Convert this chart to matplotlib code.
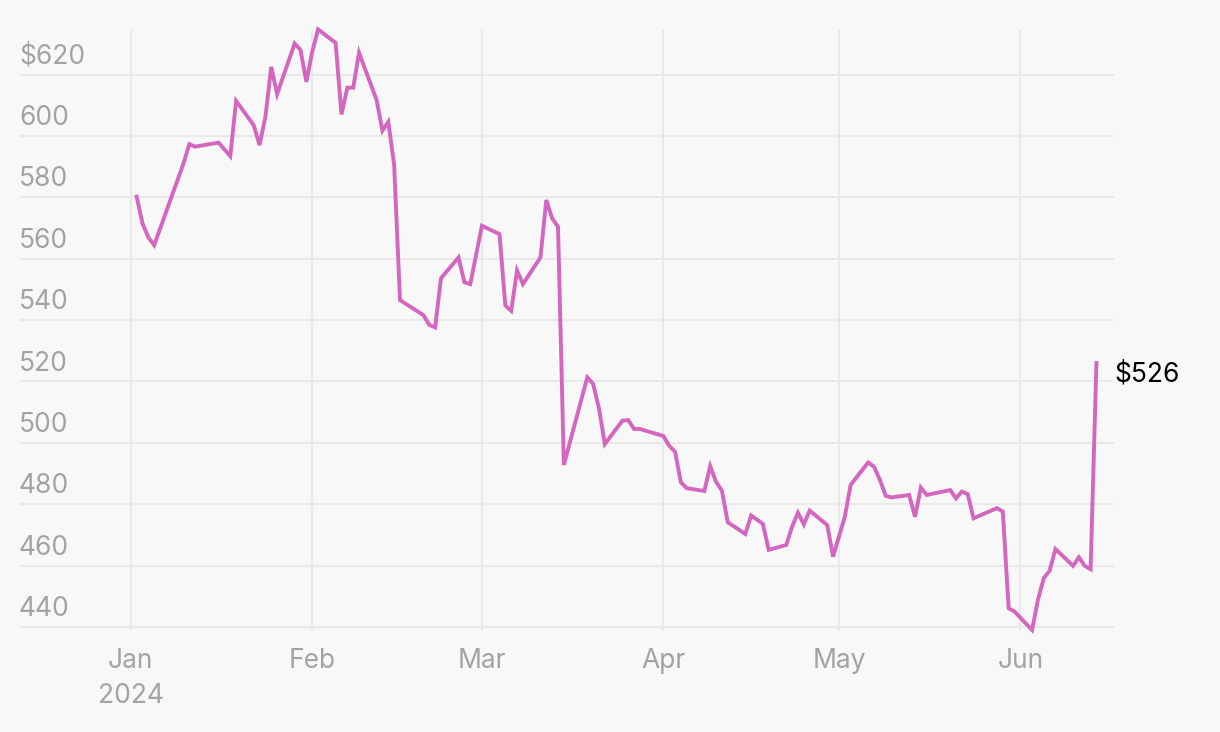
import numpy as np
import matplotlib
matplotlib.use("Agg")
import matplotlib.pyplot as plt
import matplotlib.dates as mdates
import matplotlib.transforms as mtransforms

# closing prices (vertices only)
dates = [
    "2024-01-02", "2024-01-03", "2024-01-04", "2024-01-05", "2024-01-10",
    "2024-01-11", "2024-01-12", "2024-01-16", "2024-01-18", "2024-01-19",
    "2024-01-22", "2024-01-23", "2024-01-24", "2024-01-25", "2024-01-26",
    "2024-01-29", "2024-01-30", "2024-01-31", "2024-02-01", "2024-02-02",
    "2024-02-05", "2024-02-06", "2024-02-07", "2024-02-08", "2024-02-09",
    "2024-02-12", "2024-02-13", "2024-02-14", "2024-02-15", "2024-02-16",
    "2024-02-20", "2024-02-21", "2024-02-22", "2024-02-23", "2024-02-26",
    "2024-02-27", "2024-02-28", "2024-03-01", "2024-03-04", "2024-03-05",
    "2024-03-06", "2024-03-07", "2024-03-08", "2024-03-11", "2024-03-12",
    "2024-03-13", "2024-03-14", "2024-03-15", "2024-03-19", "2024-03-20",
    "2024-03-21", "2024-03-22", "2024-03-25", "2024-03-26", "2024-03-27",
    "2024-03-28", "2024-04-01", "2024-04-02", "2024-04-03", "2024-04-04",
    "2024-04-05", "2024-04-08", "2024-04-09", "2024-04-10", "2024-04-11",
    "2024-04-12", "2024-04-15", "2024-04-16", "2024-04-18", "2024-04-19",
    "2024-04-22", "2024-04-23", "2024-04-24", "2024-04-25", "2024-04-26",
    "2024-04-29", "2024-04-30", "2024-05-02", "2024-05-03", "2024-05-06",
    "2024-05-07", "2024-05-08", "2024-05-09", "2024-05-10", "2024-05-13",
    "2024-05-14", "2024-05-15", "2024-05-16", "2024-05-20", "2024-05-21",
    "2024-05-22", "2024-05-23", "2024-05-24", "2024-05-28", "2024-05-29",
    "2024-05-30", "2024-05-31", "2024-06-03", "2024-06-04", "2024-06-05",
    "2024-06-06", "2024-06-07", "2024-06-10", "2024-06-11", "2024-06-12",
    "2024-06-13", "2024-06-14",
]
prices = [
    580.2, 571.5, 566.9, 564.4, 591.0,
    597.3, 596.5, 597.8, 593.4, 611.4,
    603.5, 597.0, 606.2, 622.5, 613.6,
    630.1, 628.0, 617.6, 627.4, 634.7,
    630.3, 607.0, 615.7, 615.7, 627.1,
    611.7, 601.7, 604.6, 590.5, 546.5,
    541.6, 538.4, 537.6, 553.6, 560.4,
    552.3, 551.7, 570.7, 568.0, 544.7,
    543.0, 556.1, 551.7, 560.4, 579.1,
    573.1, 570.4, 492.8, 521.3, 519.2,
    511.2, 499.6, 507.2, 507.4, 504.5,
    504.5, 502.2, 499.0, 497.1, 487.1,
    485.2, 484.3, 492.4, 487.3, 484.4,
    474.1, 470.3, 476.3, 473.6, 465.1,
    466.7, 472.7, 477.2, 473.4, 477.9,
    473.2, 462.9, 475.9, 486.3, 493.6,
    492.2, 487.9, 482.7, 482.2, 483.0,
    475.9, 485.4, 483.0, 484.6, 481.9,
    484.1, 483.3, 475.4, 478.7, 477.6,
    446.1, 445.0, 439.0, 448.8, 455.9,
    458.3, 465.4, 459.9, 462.7, 459.9,
    458.8, 526.0,
]
y_ticks = [440, 460, 480, 500, 520, 540, 560, 580, 600, 620]
month_ticks = ["2024-01-01", "2024-02-01", "2024-03-01", "2024-04-01", "2024-05-01", "2024-06-01"]
month_labels = ["Jan\n2024", "Feb", "Mar", "Apr", "May", "Jun"]

plt.rcParams['font.family'] = ['Inter', 'DejaVu Sans']

bg = '#f8f8f8'
grid_c = '#e9e9e9'
text_c = '#a3a3a3'
line_c = '#d466bf'

x = np.array(dates, dtype='datetime64[D]')
fig = plt.figure(figsize=(12.2, 7.32), dpi=100, facecolor=bg)
ax = fig.add_axes([19 / 1220, 1 - 630 / 732, (1114 - 19) / 1220, 600 / 732])
ax.set_facecolor(bg)

ax.plot(x, prices, color=line_c, lw=2.8, solid_joinstyle='miter', clip_on=False, zorder=3)

jan1 = np.datetime64("2024-01-01")
ax.set_xlim(mdates.date2num(jan1) - 19.1, mdates.date2num(jan1) + 168.0)
ax.set_ylim(439, 634.5)

ax.set_xticks(np.array(month_ticks, dtype='datetime64[D]'))
ax.set_xticklabels(month_labels, linespacing=1.45)
ax.set_yticks(y_ticks)
ax.set_yticklabels([])
ax.tick_params(axis='both', length=0)
ax.tick_params(axis='x', labelsize=19, labelcolor=text_c, pad=13)
ax.grid(True, color=grid_c, lw=1.5)
ax.set_axisbelow(True)
for s in ax.spines.values():
    s.set_visible(False)

# y labels sit above their gridlines, flush left
trans = mtransforms.blended_transform_factory(ax.transAxes, ax.transData)
for i, v in enumerate(y_ticks):
    lab = f"${v}" if v == y_ticks[-1] else str(v)
    ax.annotate(lab, xy=(0, v), xycoords=trans, xytext=(0, 3.5), textcoords='offset points',
                ha='left', va='bottom', fontsize=19, color=text_c)

ax.annotate(f"${prices[-1]:.0f}", xy=(x[-1], prices[-1]), xytext=(13, -8.5),
            textcoords='offset points', ha='left', va='center', fontsize=19, color='black')

fig.savefig("out.png", dpi=100, facecolor=bg)
